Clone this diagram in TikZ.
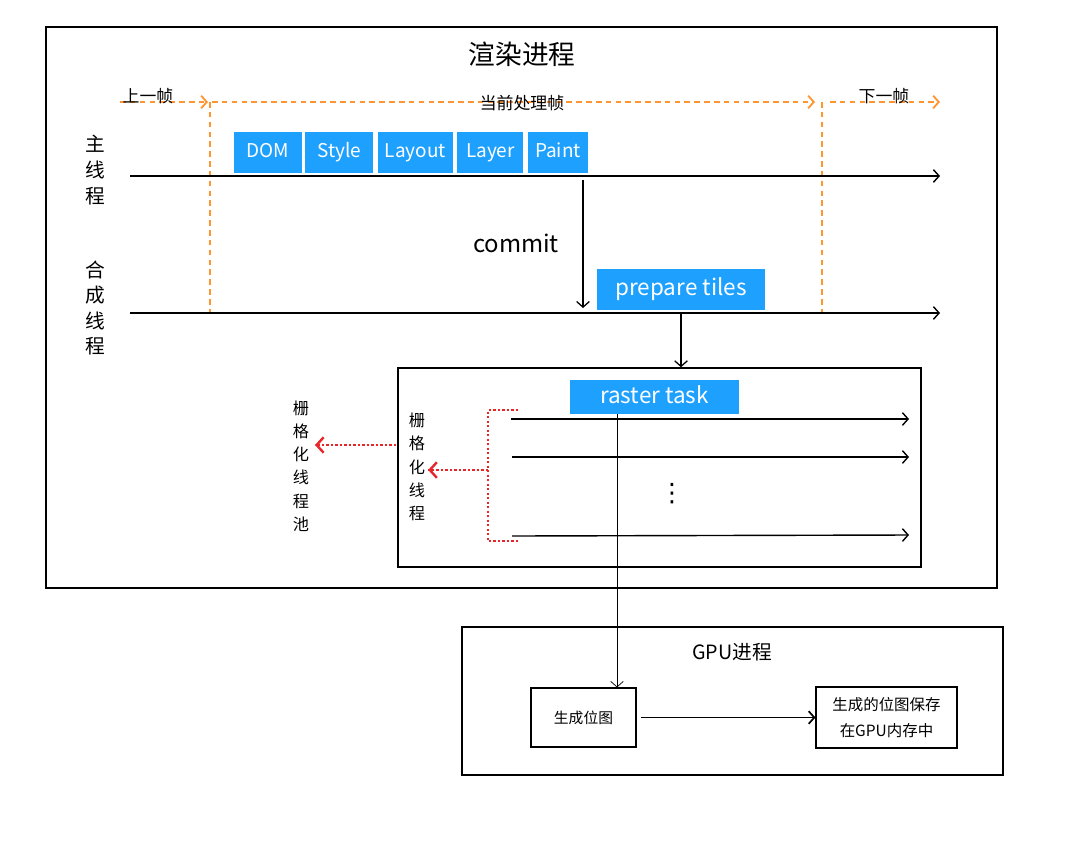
\documentclass[tikz,border=0pt]{standalone}
\usepackage{fontspec}
\setmainfont{Noto Sans CJK SC}
\newfontfamily\symfont{DejaVu Sans}
\usetikzlibrary{positioning}
\usetikzlibrary{arrows.meta}

\definecolor{stageblue}{RGB}{30,160,255}
\definecolor{frameorange}{RGB}{255,150,50}
\definecolor{poolred}{RGB}{232,38,42}

\begin{document}
\begin{tikzpicture}[x=0.025cm,y=-0.025cm,
  >={Straight Barb[length=4pt,width=9pt]},
  stage/.style={fill=stageblue,text=white,inner sep=0pt,minimum height=1.025cm,text height=10pt,text depth=3pt,font=\fontsize{13.5}{15}\selectfont},
  framearrow/.style={frameorange,line width=1.3pt,dash pattern=on 4pt off 3pt},
  thread/.style={line width=1pt},
  reddot/.style={poolred,line width=1.7pt,dash pattern=on 1.7pt off 1.5pt},
  redtip/.style={poolred,line width=1.7pt,-{Straight Barb[length=5pt,width=11pt]}},
  vlabel/.style={align=center,inner sep=0pt},
  plainbox/.style={draw,line width=0.8pt,inner sep=0pt}]
\useasboundingbox (0,0) rectangle (1072,844);

% render process frame
\node[draw,line width=1.2pt,minimum width=23.775cm,minimum height=14.025cm] (render) at (521.5,307.5) {};
\node (rendertitle) at (522,54) {\fontsize{19}{21}\selectfont 渲染进程};

% frames
\coordinate (prevstart) at (120,102);
\coordinate (prevend) at (208,102);
\coordinate (curstart) at (212,102);
\coordinate (curend) at (815,102);
\coordinate (nextstart) at (830,102);
\coordinate (nextend) at (940,102);
\draw[framearrow,->] (prevstart) -- (prevend);
\draw[framearrow,->] (curstart) -- (curend);
\draw[framearrow,->] (nextstart) -- (nextend);
\node (prevlabel) at (148,96) {\fontsize{12}{14}\selectfont 上一帧};
\node (curlabel) at (522,103) {\fontsize{12}{14}\selectfont 当前处理帧};
\node (nextlabel) at (884,96) {\fontsize{12}{14}\selectfont 下一帧};
\coordinate (frameleft) at (210,313);
\coordinate (frameright) at (822,313);
\draw[framearrow] (curstart -| frameleft) -- (frameleft);
\draw[framearrow] (curend -| frameright) -- (frameright);

% main thread
\coordinate (mainstart) at (130,176);
\coordinate (mainend) at (940,176);
\draw[thread,->] (mainstart) -- (mainend);
\node[vlabel,font=\fontsize{14}{18.5}\selectfont] (mainlabel) at (95,170) {主\\线\\程};
\node[stage,minimum width=1.675cm] (dom) at (268,152.5) {DOM};
\node[stage,minimum width=1.7cm,right=0.08cm of dom] (style) {Style};
\node[stage,minimum width=1.875cm,right=0.1cm of style] (layout) {Layout};
\node[stage,minimum width=1.65cm,right=0.1cm of layout] (layer) {Layer};
\node[stage,minimum width=1.5cm,right=0.1cm of layer] (paint) {Paint};

% commit
\coordinate (committop) at (583,180);
\coordinate (commitbot) at (583,308);
\draw[line width=0.9pt,->] (committop) -- (commitbot);
\node (commit) at (516,243) {\fontsize{17}{19}\selectfont commit};

% compositor thread
\coordinate (compstart) at (130,313);
\coordinate (compend) at (940,313);
\draw[thread,->] (compstart) -- (compend);
\node[vlabel,font=\fontsize{14}{18}\selectfont] (complabel) at (95,308) {合\\成\\线\\程};
\node[stage,minimum width=4.2cm,font=\fontsize{16}{18}\selectfont,text height=12pt] (tiles) at (681,289) {prepare tiles};
\coordinate (tilesdrop) at (681,313);

% raster threads
\node[plainbox,line width=1pt,minimum width=13.075cm,minimum height=4.975cm] (rasterbox) at (659.5,467.5) {};
\draw[line width=0.9pt,->] (tilesdrop) -- (tilesdrop |- rasterbox.north);
\node[stage,minimum width=4.225cm,minimum height=0.85cm,font=\fontsize{16}{18}\selectfont,text height=12pt] (raster) at (654.5,397) {raster task};
\coordinate (rowa) at (511,419);
\coordinate (rowb) at (512,457);
\coordinate (rowc) at (512,536);
\draw[thread,->] (rowa) -- (909,419);
\draw[thread,->] (rowb) -- (909,457);
\draw[thread,->] (rowc) -- (909,535);
\node (dots) at (672,494) {\fontsize{18}{20}\selectfont\symfont ⋮};

% rasterizer pool
\coordinate (brackettop) at (518,410);
\coordinate (bracketbot) at (518,541);
\coordinate (bracketmid) at (488,470);
\draw[reddot] (brackettop) -- (brackettop -| bracketmid) -- (bracketbot -| bracketmid) -- (bracketbot);
\node[vlabel,font=\fontsize{11.5}{16.5}\selectfont] (rasterthread) at (417,467) {栅\\格\\化\\线\\程};
\coordinate (threadtip) at ([xshift=2pt]rasterthread.east |- bracketmid);
\draw[reddot] (bracketmid) -- (threadtip);
\draw[redtip] ([xshift=3pt]threadtip) -- (threadtip);
\node[vlabel,font=\fontsize{11.5}{16.5}\selectfont] (rasterpool) at (301,466) {栅\\格\\化\\线\\程\\池};
\coordinate (poolstart) at (396,445);
\coordinate (pooltip) at ([xshift=4pt]rasterpool.east |- poolstart);
\draw[reddot] (poolstart) -- (pooltip);
\draw[redtip] ([xshift=3pt]pooltip) -- (pooltip);

% GPU process
\node[draw,line width=1.2pt,minimum width=13.525cm,minimum height=3.7cm] (gpu) at (732.5,701) {};
\node (gputitle) at (732,652) {\fontsize{14}{16}\selectfont GPU进程};
\node[plainbox,minimum width=2.625cm,minimum height=1.475cm,font=\fontsize{10.5}{12}\selectfont] (bitmap) at (583.5,717.5) {生成位图};
\node[plainbox,minimum width=3.525cm,minimum height=1.525cm,align=center,font=\fontsize{11}{18}\selectfont] (save) at (886.5,717.5) {生成的位图保存\\在GPU内存中};
\coordinate (drop) at (617,414);
\draw[line width=0.5pt,->] (drop) -- (drop |- bitmap.north);
\draw[line width=1.2pt,->] ([xshift=0.12cm]bitmap.east) -- (save.west);

\end{tikzpicture}
\end{document}
